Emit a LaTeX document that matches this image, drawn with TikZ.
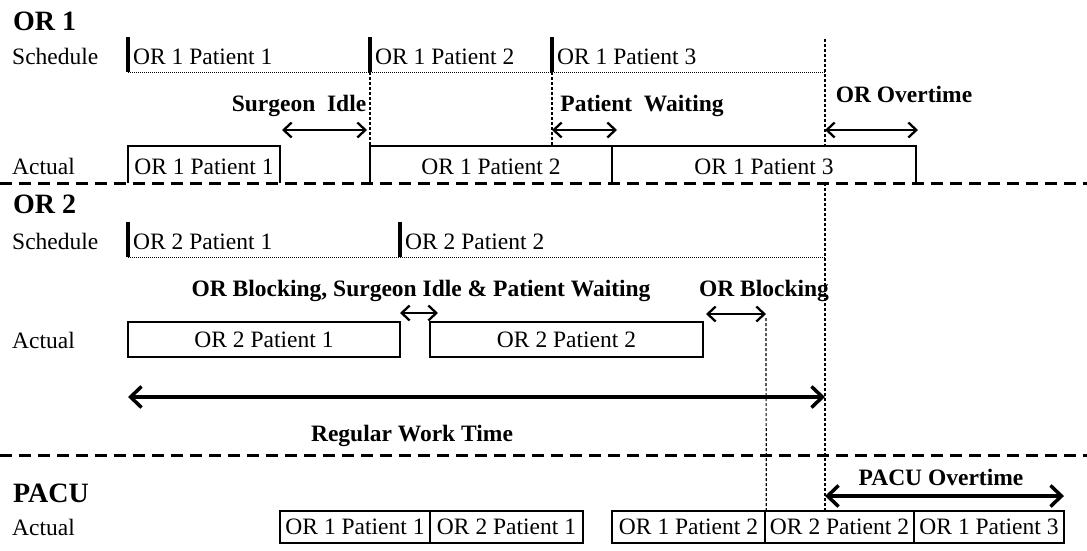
\documentclass[tikz,border=0pt]{standalone}
\usepackage{fontspec}
\setmainfont{Liberation Serif}
\usetikzlibrary{arrows.meta}
\begin{document}
\begin{tikzpicture}[x=1pt,y=-1pt,
  txt/.style={font=\fontsize{23.5}{26}\selectfont, inner sep=0pt},
  lbl/.style={font=\fontsize{23.5}{26}\selectfont\bfseries, inner sep=0pt, anchor=base},
  head/.style={font=\fontsize{28}{32}\selectfont\bfseries, inner sep=0pt, anchor=base west},
  rowlbl/.style={txt, anchor=base west},
  schedtxt/.style={txt, anchor=base west},
  sepline/.style={line width=3pt, dash pattern=on 12pt off 7pt},
  guide/.style={line width=1.2pt, dash pattern=on 3pt off 2pt},
  sched/.style={line width=1pt, dash pattern=on 1pt off 1pt},
  startbar/.style={line width=4pt},
  openbox/.style={line width=2.5pt},
  boxnode/.style={txt, draw, line width=2.5pt, minimum height=35},
  pbox/.style={txt, draw, line width=2.5pt, minimum height=32},
  span/.style={line width=2.3pt, {Straight Barb[length=8pt,width=15pt]}-{Straight Barb[length=8pt,width=15pt]}},
  bigspan/.style={line width=3.5pt, {Straight Barb[length=11pt,width=21pt]}-{Straight Barb[length=11pt,width=21pt]}},
]
\path[use as bounding box] (0,0) rectangle (1087,550);

% ---------------- OR 1 ----------------
\node[head] (h1) at (13,30) {OR 1};
\node[rowlbl] (s1lbl) at (12,64) {Schedule};
\node[rowlbl] (a1lbl) at (12,174) {Actual};

% schedule start marks and planned line
\coordinate (s11t) at (128,37);  \coordinate (s11b) at (128,72);
\coordinate (s12t) at (370,37);  \coordinate (s12b) at (370,72);
\coordinate (s13t) at (552,37);  \coordinate (s13b) at (552,72);
\coordinate (s1end) at (825,72);
\draw[sched] (s11b) -- (s1end);
\draw[startbar] (s11t) -- (s11b);
\draw[startbar] (s12t) -- (s12b);
\draw[startbar] (s13t) -- (s13b);
\node[schedtxt] (s11) at (133,64) {OR 1 Patient 1};
\node[schedtxt] (s12) at (375,64) {OR 1 Patient 2};
\node[schedtxt] (s13) at (557,64) {OR 1 Patient 3};

% actual cases (open towards the separator)
\draw[openbox] (128,183) |- (280,146) -- (280,183);
\draw[openbox] (370,183) |- (612,146) -- (612,183);
\draw[openbox] (612,183) |- (916,146) -- (916,183);
\node[txt, anchor=base] (a11) at (204,174) {OR 1 Patient 1};
\node[txt, anchor=base] (a12) at (491,174) {OR 1 Patient 2};
\node[txt, anchor=base] (a13) at (764,174) {OR 1 Patient 3};

% guides
\coordinate (g12b) at (370,146);
\coordinate (g13b) at (552,146);
\draw[guide] (s12b) -- (g12b);
\draw[guide] (s13b) -- (g13b);

% delay measures
\node[lbl] (lidle) at (299,111) {Surgeon\hspace{0.5em}Idle};
\node[lbl] (lwait) at (642,111) {Patient\hspace{0.5em}Waiting};
\node[lbl] (lot) at (904,102) {OR Overtime};
\coordinate (i1) at (282,130); \coordinate (i2) at (367,130);
\coordinate (w1) at (552,130); \coordinate (w2) at (617,130);
\coordinate (o1) at (825,130); \coordinate (o2) at (918,130);
\draw[span] (i1) -- (i2);
\draw[span] (w1) -- (w2);
\draw[span] (o1) -- (o2);

\coordinate (sepAl) at (0,183); \coordinate (sepAr) at (1087,183);
\draw[sepline] (sepAl) -- (sepAr);

% ---------------- OR 2 ----------------
\node[head] (h2) at (13,213) {OR 2};
\node[rowlbl] (s2lbl) at (12,249) {Schedule};
\node[rowlbl] (a2lbl) at (12,348) {Actual};

\coordinate (s21t) at (128,222);  \coordinate (s21b) at (128,257);
\coordinate (s22t) at (400,222);  \coordinate (s22b) at (400,257);
\coordinate (s2end) at (825,257);
\draw[sched] (s21b) -- (s2end);
\draw[startbar] (s21t) -- (s21b);
\draw[startbar] (s22t) -- (s22b);
\node[schedtxt] (s21) at (133,249) {OR 2 Patient 1};
\node[schedtxt] (s22) at (405,249) {OR 2 Patient 2};

\node[boxnode, minimum width=272] (a21) at (264,339.5) {OR 2 Patient 1};
\node[boxnode, minimum width=273] (a22) at (566.5,339.5) {OR 2 Patient 2};

\node[lbl] (lblk3) at (421,296) {OR Blocking, Surgeon Idle \& Patient Waiting};
\node[lbl] (lblk) at (764,296) {OR Blocking};
\coordinate (k1) at (400,313); \coordinate (k2) at (438,313);
\coordinate (b1) at (706,314); \coordinate (b2) at (766,314);
\draw[span] (k1) -- (k2);
\draw[span] (b1) -- (b2);

% regular work time
\coordinate (r1) at (128,397); \coordinate (r2) at (825,397);
\draw[bigspan] (r1) -- (r2);
\node[lbl] (lreg) at (412,441) {Regular Work Time};

\coordinate (sepBl) at (0,455); \coordinate (sepBr) at (1087,455);
\draw[sepline] (sepBl) -- (sepBr);

% ---------------- PACU ----------------
\node[head] (h3) at (13,502) {PACU};
\node[rowlbl] (a3lbl) at (12,535) {Actual};

\node[pbox, minimum width=150] (p1) at (355,527) {OR 1 Patient 1};
\node[pbox, minimum width=153] (p2) at (506.5,527) {OR 2 Patient 1};
\node[pbox, minimum width=153] (p3) at (688.5,527) {OR 1 Patient 2};
\node[pbox, minimum width=149] (p4) at (839.5,527) {OR 2 Patient 2};
\node[pbox, minimum width=150] (p5) at (989,527) {OR 1 Patient 3};

\node[lbl] (lpot) at (941,485) {PACU Overtime};
\coordinate (q1) at (825,496); \coordinate (q2) at (1064,496);
\draw[bigspan] (q1) -- (q2);

% end of regular time: above the OR 1 case, then from the separator down
\coordinate (gend) at (825,39);
\coordinate (gendm) at (825,146);
\coordinate (gends) at (825,183);
\coordinate (gendb) at (825,511);
\draw[guide] (gend) -- (gendm);
\draw[guide] (gends) -- (gendb);
\coordinate (gblk) at (766,318);
\draw[guide] (gblk) -- (p3.north east);
\end{tikzpicture}
\end{document}
